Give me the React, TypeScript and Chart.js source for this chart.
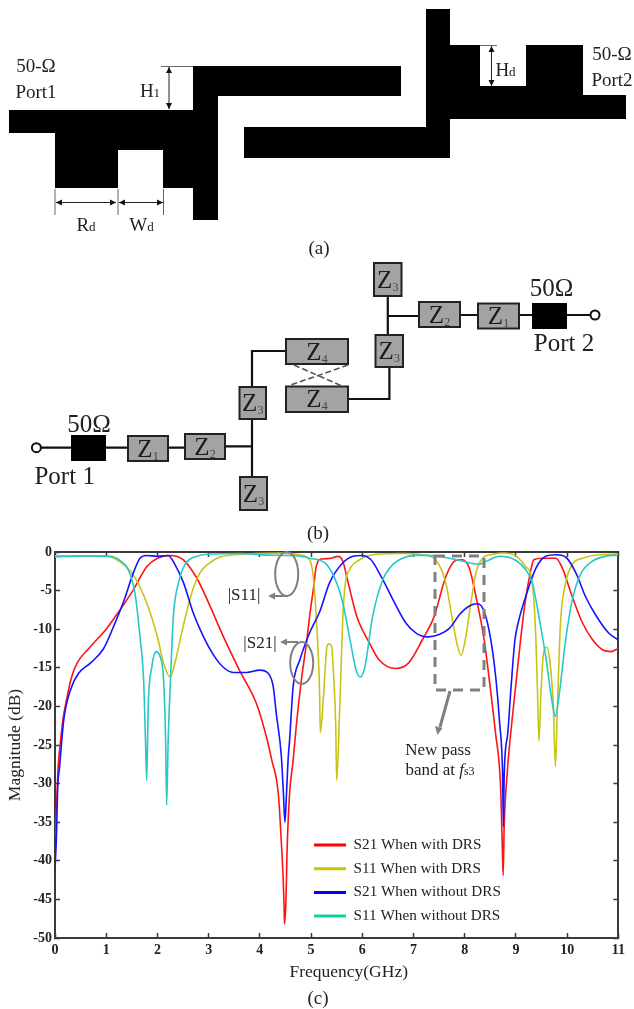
import React, { useEffect, useRef } from "react";
import { Chart, registerables } from "chart.js";

Chart.register(...registerables);

const SERIF = '"Liberation Serif"';

const s21WithFreq = [0,0.03,0.06,0.1,0.16,0.23,0.32,0.43,0.66,1.01,1.27,1.53,1.79,2,2.25,2.5,2.77,3,3.29,3.6,3.93,4.13,4.23,4.36,4.42,4.47,4.48,4.51,4.53,4.58,4.65,4.71,4.81,4.91,4.97,5.05,5.1,5.2,5.36,5.52,5.62,5.71,5.9,6.14,6.33,6.65,6.9,7.17,7.4,7.63,7.82,7.95,8.09,8.22,8.38,8.48,8.6,8.7,8.73,8.75,8.77,8.83,8.96,9.09,9.18,9.27,9.35,9.52,9.78,9.9,10.1,10.3,10.5,10.7,10.85,11];
const s21WithDb = [-37,-33,-28,-25,-21.5,-19,-16.3,-14.4,-12.5,-9.9,-7.5,-4.9,-1.9,-0.8,-0.45,-1,-3.4,-6.6,-11,-15.3,-19.6,-24,-26.9,-31.3,-37.7,-45.1,-48.2,-45,-39,-31.3,-27,-22.6,-16.6,-11.8,-8.4,-4.5,-1.9,-0.9,-0.85,-0.57,-1.2,-3.6,-8.5,-11.8,-14,-15.1,-14.4,-11.4,-8.4,-3.2,-1.1,-1,-2.1,-5.8,-11.4,-16.6,-23.4,-30.4,-37.3,-41.9,-35.6,-28.6,-19.5,-11.4,-6.5,-3,-1,-0.8,-0.8,-2,-5.8,-9.2,-11.4,-12.7,-12.9,-12.5];

const s11WithFreq = [0,0.5,0.95,1.21,1.53,1.79,2,2.12,2.25,2.34,2.5,2.67,2.83,3,3.22,3.48,3.94,4.45,4.78,4.97,5.04,5.1,5.165,5.18,5.22,5.27,5.31,5.35,5.4,5.44,5.48,5.5,5.56,5.62,5.67,5.75,5.95,6.27,6.79,7.17,7.43,7.63,7.76,7.86,7.93,8.02,8.12,8.22,8.35,8.54,8.77,9,9.19,9.32,9.39,9.42,9.45,9.49,9.54,9.6,9.66,9.73,9.77,9.81,9.87,9.97,10.1,10.3,10.62,11];
const s11WithDb = [-0.5,-0.5,-0.55,-1,-3,-6.6,-11,-14.4,-16.2,-14.4,-9.7,-5.3,-2.7,-1.5,-0.65,-0.35,-0.2,-0.15,-0.35,-1,-3,-8.4,-17.9,-23.4,-20.9,-15.7,-12.2,-11.9,-12.2,-16,-22.2,-29.6,-20,-8.4,-4,-2.3,-1,-0.3,-0.2,-0.35,-1,-4,-8.8,-12.2,-13.4,-11,-6.6,-2.7,-0.8,-0.3,-0.13,-0.5,-1.9,-4,-11.4,-17.9,-24.5,-18,-13,-12.3,-14,-20,-27.8,-20,-9.2,-4,-1.6,-0.8,-0.35,-0.3];

const s21WithoutFreq = [0,0.03,0.05,0.09,0.17,0.3,0.46,0.69,0.95,1.14,1.34,1.53,1.66,1.79,2,2.21,2.34,2.51,2.7,2.9,3.09,3.28,3.48,3.74,4,4.16,4.26,4.32,4.42,4.46,4.49,4.52,4.55,4.58,4.65,4.78,4.97,5.17,5.36,5.62,5.82,5.98,6.17,6.37,6.6,6.85,7.05,7.28,7.5,7.7,7.9,8.09,8.25,8.38,8.51,8.61,8.68,8.74,8.755,8.77,8.84,8.9,8.98,9.05,9.19,9.39,9.58,9.78,9.97,10.17,10.36,10.55,10.81,11];
const s21WithoutDb = [-41,-36.6,-31,-27.8,-21.8,-17.9,-15.7,-14.4,-12.5,-9.7,-6.4,-2.7,-0.8,-0.45,-0.55,-0.45,-1.6,-4,-7.9,-11,-13.3,-14.9,-15.6,-15.6,-15.3,-15.7,-17.4,-20.9,-26.5,-31.3,-35,-31.3,-27,-24.4,-17.4,-14,-10.5,-7.7,-4,-1.4,-0.55,-0.45,-1,-3.2,-6.2,-9.2,-10.5,-11,-10.7,-9.9,-8.1,-7,-6.7,-7.7,-11.4,-16.5,-22,-29,-35.6,-29,-23.5,-17.9,-11.4,-9,-5.8,-2.1,-0.55,-0.35,-0.65,-2.7,-5.8,-8.1,-10.5,-11.4];

const s11WithoutFreq = [0,0.5,1.08,1.27,1.43,1.56,1.66,1.73,1.77,1.79,1.82,1.89,1.97,2.05,2.12,2.16,2.18,2.21,2.26,2.31,2.41,2.54,2.77,3.15,3.61,4.13,4.52,4.78,4.97,5.3,5.5,5.62,5.75,5.88,5.96,6.05,6.2,6.4,6.6,6.85,7.12,7.57,7.9,8.15,8.28,8.45,8.68,9,9.19,9.32,9.45,9.58,9.71,9.77,9.84,9.97,10.1,10.26,10.49,10.75,11];
const s11WithoutDb = [-0.65,-0.5,-0.55,-1.1,-2.3,-5.3,-11,-16.6,-25.2,-29.6,-20,-14.9,-12.9,-13.5,-16.6,-24.4,-32.8,-24.4,-15.7,-8.4,-4,-1.6,-0.55,-0.25,-0.2,-0.4,-0.45,-0.55,-0.8,-1.6,-4,-6.6,-11,-15.3,-16.2,-14.9,-8.4,-3.6,-1.6,-0.65,-0.4,-0.65,-1.1,-1.5,-1.6,-1.1,-0.55,-1.1,-2.3,-4,-8.4,-13.5,-19.6,-21.3,-18.7,-11.4,-6.2,-2.9,-1.2,-0.55,-0.4];

const seriesLabels = ["S21 When with DRS", "S11 When with DRS", "S21 When without DRS", "S11 When without DRS"];
const lineColors = ["#ff1414", "#c8c416", "#1414ff", "#28c8c8"];
const legendColors = ["#ff0000", "#c8c400", "#0000ff", "#10d0a0"];
const drawOrder = [4, 3, 2, 1];

const zip = (f: number[], d: number[]) => f.map((x, i) => ({ x, y: d[i] }));

function Zbox({ x, y, w, h, n }: { x: number; y: number; w: number; h: number; n: number }) {
  return (
    <g>
      <rect x={x} y={y} width={w} height={h} fill="#a3a3a3" stroke="#222" strokeWidth={2} />
      <text x={x + w / 2} y={y + h / 2 + 8} textAnchor="middle" fontSize={25} fill="#1c1c1c">
        Z<tspan fontSize={12} dy={3} fill="#444">{n}</tspan>
      </text>
    </g>
  );
}

const Seg = ({ d, w = 2, c = "#111" }: { d: string; w?: number; c?: string }) => (
  <path d={d} fill="none" stroke={c} strokeWidth={w} />
);

const DimH = ({ x1, x2, y }: { x1: number; x2: number; y: number }) => (
  <g>
    <line x1={x1} x2={x2} y1={y} y2={y} stroke="#222" strokeWidth={1} />
    <path d={`M${x1} ${y}l6 -3v6z M${x2} ${y}l-6 -3v6z`} fill="#111" />
  </g>
);
const DimV = ({ x, y1, y2 }: { x: number; y1: number; y2: number }) => (
  <g>
    <line x1={x} x2={x} y1={y1} y2={y2} stroke="#222" strokeWidth={1} />
    <path d={`M${x} ${y1}l-3 6h6z M${x} ${y2}l-3 -6h6z`} fill="#111" />
  </g>
);

function Overlay() {
  const grey = "#808080";
  return (
    <svg
      width={634}
      height={1009}
      viewBox="0 0 634 1009"
      style={{ position: "absolute", left: 0, top: 0, pointerEvents: "none", fontFamily: SERIF, filter: "blur(0.35px)" }}
    >
      {/* (a) layout */}
      <path
        d="M9 110H193V66H401V96H218V220H193V188H163V150H118V188H55V133H9Z M244 127H426V9H450V45H480V86H526V45H583V95H626V119H450V158H244Z"
        fill="#000"
      />
      <g fill="#222" textAnchor="middle">
        <text x={36} y={72} fontSize={19}>50-Ω</text>
        <text x={36} y={98} fontSize={19}>Port1</text>
        <text x={150} y={97} fontSize={19}>H<tspan fontSize={13}>1</tspan></text>
        <text x={86} y={231} fontSize={19}>R<tspan fontSize={13}>d</tspan></text>
        <text x={141.5} y={231} fontSize={19}>W<tspan fontSize={13}>d</tspan></text>
        <text x={505.5} y={76} fontSize={19}>H<tspan fontSize={13}>d</tspan></text>
        <text x={612} y={60} fontSize={19}>50-Ω</text>
        <text x={612} y={86} fontSize={19}>Port2</text>
        <text x={319} y={254} fontSize={19}>(a)</text>
      </g>
      <Seg d="M161 66.5H193 M55 189V215 M118 189V215 M163.5 189V215 M480 45.5H497" w={1} c="#666" />
      <DimV x={169} y1={67} y2={109} />
      <DimH x1={56} x2={116} y={202.5} />
      <DimH x1={119} x2={163} y={202.5} />
      <DimV x={491.5} y1={46} y2={86} />

      {/* (b) circuit */}
      <Seg d="M41 447.7H128 M168 447.7H185 M225.6 446.3H252 M252 420V477 M252 387V351H286 M348 399H389.4V367 M387.8 335V296 M388 316H419 M460 315H478 M519 315H532 M567 315H590" w={2.2} />
      <rect x={71} y={435} width={35} height={26} fill="#000" />
      <rect x={532} y={303} width={35} height={26} fill="#000" />
      <circle cx={36.4} cy={447.7} r={4.5} fill="#fff" stroke="#111" strokeWidth={2} />
      <circle cx={595} cy={315} r={4.5} fill="#fff" stroke="#111" strokeWidth={2} />
      <Zbox x={128} y={436} w={40} h={25} n={1} />
      <Zbox x={185} y={434} w={40} h={25} n={2} />
      <Zbox x={239.5} y={387} w={26.5} h={32} n={3} />
      <Zbox x={240} y={477} w={27} h={33} n={3} />
      <Zbox x={286} y={339} w={62} h={25} n={4} />
      <Zbox x={286} y={386.5} w={62} h={25.5} n={4} />
      <Zbox x={375.5} y={335} w={27.5} h={32} n={3} />
      <Zbox x={374} y={263} w={27.5} h={33} n={3} />
      <Zbox x={419} y={302} w={41} h={25} n={2} />
      <Zbox x={478} y={303.5} w={41} h={25} n={1} />
      <path d="M294 365L342 386 M348 365L288 386" fill="none" stroke="#555" strokeWidth={1.6} strokeDasharray="6 3" />
      <g fill="#222" textAnchor="middle">
        <text x={89} y={432} fontSize={25}>50Ω</text>
        <text x={551.6} y={296} fontSize={25}>50Ω</text>
        <text x={64.7} y={484} fontSize={25}>Port 1</text>
        <text x={564} y={351} fontSize={25}>Port 2</text>
        <text x={318} y={539} fontSize={19}>(b)</text>
      </g>

      {/* (c) annotations */}
      <g fill="none" stroke={grey} strokeWidth={2}>
        <ellipse cx={286.7} cy={574} rx={11.5} ry={22} />
        <ellipse cx={301.7} cy={663} rx={11.5} ry={21} />
        <path d="M288 596H272 M298 642H284" />
        <rect x={435} y={556} width={49} height={134} strokeWidth={3} strokeDasharray="10 7" />
        <path d="M450 691L440 727" strokeWidth={3} />
      </g>
      <path d="M268 596l7 -3.5v7z M280 642l7 -3.5v7z M437.5 735l-2.5 -9 7.5 2z" fill={grey} />
      <g fill="#222" textAnchor="middle">
        <text x={244} y={599.5} fontSize={17}>|S11|</text>
        <text x={260} y={648} fontSize={17}>|S21|</text>
        <text x={438} y={754.5} fontSize={17}>New pass</text>
        <text x={440} y={775} fontSize={17}>
          band at <tspan fontStyle="italic">f</tspan><tspan fontSize={12}>s3</tspan>
        </text>
        <text x={318} y={1004} fontSize={19}>(c)</text>
      </g>
    </svg>
  );
}

export default function App() {
  const ref = useRef<HTMLCanvasElement>(null);
  useEffect(() => {
    if (!ref.current) return;
    const freqs = [s21WithFreq, s11WithFreq, s21WithoutFreq, s11WithoutFreq];
    const dbs = [s21WithDb, s11WithDb, s21WithoutDb, s11WithoutDb];
    const axisColor = "#3a3a3a";
    const tickFont = { family: SERIF, size: 14, weight: "bold" as const };
    const chart = new Chart(ref.current, {
      type: "line",
      data: {
        datasets: seriesLabels.map((label, i) => ({
          label,
          data: zip(freqs[i], dbs[i]),
          borderColor: lineColors[i],
          backgroundColor: legendColors[i],
          borderWidth: 1.6,
          pointRadius: 0,
          cubicInterpolationMode: "monotone" as const,
          order: drawOrder[i],
        })),
      },
      options: {
        animation: false,
        responsive: false,
        devicePixelRatio: 1,
        layout: { padding: { left: 0, top: 548, right: 10, bottom: 26 } },
        scales: {
          x: {
            type: "linear",
            position: "bottom",
            min: 0,
            max: 11,
            ticks: { stepSize: 1, color: "#222", font: tickFont, padding: 9, maxRotation: 0 },
            grid: { drawOnChartArea: false, tickLength: -5, tickColor: axisColor, tickWidth: 1.5 },
            border: { color: axisColor, width: 2 },
            title: { display: true, text: "Frequency(GHz)", color: "#222", font: { family: SERIF, size: 17.5 }, padding: { top: 0, bottom: 0 } },
            afterFit: (s: any) => {
              s.height = 45;
              if (!s.__titleShifted) {
                s.__titleShifted = true;
                const base = s.drawTitle;
                s.drawTitle = function () {
                  const { left, right } = this;
                  this.left = left + 12;
                  this.right = right + 12;
                  base.call(this);
                  this.left = left;
                  this.right = right;
                };
              }
            },
          },
          xTop: {
            type: "linear",
            position: "top",
            axis: "x",
            min: 0,
            max: 11,
            ticks: { stepSize: 1, display: false },
            grid: { drawOnChartArea: false, tickLength: -5, tickColor: axisColor, tickWidth: 1.5 },
            border: { color: axisColor, width: 2 },
            afterFit: (s: any) => { s.height = 4; },
          },
          y: {
            type: "linear",
            position: "left",
            min: -50,
            max: 0,
            ticks: { stepSize: 5, color: "#222", font: tickFont, padding: 8 },
            grid: { drawOnChartArea: false, tickLength: -5, tickColor: axisColor, tickWidth: 1.5 },
            border: { color: axisColor, width: 2 },
            title: { display: true, text: "Magnitude (dB)", color: "#222", font: { family: SERIF, size: 17.5 }, padding: { top: 4.5, bottom: 0 } },
            afterFit: (s: any) => { s.width = 55; },
          },
          yRight: {
            type: "linear",
            position: "right",
            axis: "y",
            min: -50,
            max: 0,
            ticks: { stepSize: 5, display: false },
            grid: { drawOnChartArea: false, tickLength: -5, tickColor: axisColor, tickWidth: 1.5 },
            border: { color: axisColor, width: 2 },
            afterFit: (s: any) => { s.width = 4; },
          },
        },
        plugins: {
          title: { display: false },
          tooltip: { enabled: false },
          legend: {
            position: "chartArea",
            align: "start",
            labels: {
              boxWidth: 32,
              boxHeight: 3,
              padding: 8.5,
              color: "#222",
              font: { family: SERIF, size: 15.2 },
              sort: (a: any, b: any) => a.datasetIndex - b.datasetIndex,
              generateLabels: (c: any) =>
                Chart.defaults.plugins.legend.labels.generateLabels(c).map((l: any) => ({ ...l, lineWidth: 0 })),
            },
          },
        },
      },
      plugins: [
        {
          id: "placeLegend",
          beforeDraw(c: any) {
            const l = c.legend;
            if (!l) return;
            l.left = 305.5;
            l.right = 540;
            l.top = 828.9;
            l.bottom = 938;
            l.width = 234.5;
            l.height = 109.1;
          },
        },
      ],
    } as any);
    return () => chart.destroy();
  }, []);
  return (
    <div style={{ position: "absolute", left: 0, top: 0, width: 634, height: 1009, background: "#fff" }}>
      <canvas ref={ref} width={634} height={1009} style={{ position: "absolute", left: 0, top: 0, display: "block", filter: "blur(0.3px)" }} />
      <Overlay />
    </div>
  );
}
